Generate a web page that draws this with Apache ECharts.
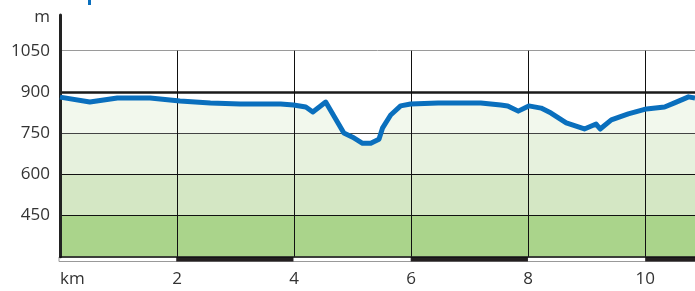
<!DOCTYPE html>
<html>
<head>
<meta charset="utf-8">
<title>Höhenprofil</title>
<script src="https://cdn.jsdelivr.net/npm/echarts@6/dist/echarts.min.js"></script>
<style>
  html, body { margin: 0; padding: 0; background: #fff; }
  #chart { width: 695px; height: 291px; }
</style>
</head>
<body>
<div id="chart"></div>
<script>
// Streckenkilometer und Höhe (m) der Profillinie
const distanceKm = [0, 0.51, 0.98, 1.54, 2.05, 2.57, 3.08, 3.77, 3.99, 4.2, 4.32, 4.54, 4.67, 4.79, 4.85, 5.0, 5.17, 5.31, 5.45, 5.51, 5.65, 5.82, 5.99, 6.46, 7.19, 7.53, 7.65, 7.83, 8.01, 8.22, 8.39, 8.65, 8.96, 9.16, 9.23, 9.42, 9.71, 10.02, 10.33, 10.5, 10.74, 10.85]
const elevation = [881, 863, 878, 878, 867, 860, 856, 856, 852, 845, 827, 863, 816, 772, 750, 735, 713, 713, 728, 768, 816, 849, 856, 860, 860, 852, 849, 830, 849, 841, 823, 787, 765, 783, 765, 798, 820, 838, 845, 860, 882, 878]
// Achsen
const xTicks = [2, 4, 6, 8, 10]
const yLevels = [450, 600, 750, 900, 1050]
// Höhenstufen für die Flächenfarbe
const bandEdges = [300, 450, 600, 750, 900]
// schwarze Abschnitte des km-Maßstabs
const scaleSegments = [[2, 4], [6, 8], [10, 12]]

const bandColors = ['#aad48b', '#d4e7c4', '#e6f1dd', '#f2f8ed']
const lineColor = '#0a6fbd'
const yMin = 300
const yMax = 1180
const xMax = 10.85

const chart = echarts.init(document.getElementById('chart'))

const profile = distanceKm.map((d, i) => [d, elevation[i]])

// Stil der horizontalen Linien je Höhe
function levelStyle(v) {
  if (v === 1050) return { color: '#9a9a9a', width: 1 }
  if (v === 900) return { color: '#1a1a1a', width: 2.5 }
  if (v === 750) return { color: '#444', width: 1.2 }
  return { color: '#111', width: 1.2 }
}

const hLines = yLevels.map((v) => ({ yAxis: v, lineStyle: levelStyle(v) }))
const vLines = xTicks.map((x) => [
  { coord: [x, yMin], lineStyle: { color: '#111', width: 1 } },
  { coord: [x, 1050] },
])

const option = {
  animation: false,
  textStyle: { fontFamily: 'Open Sans' },
  graphic: [
    // abgeschnittener Rest der Überschrift
    { type: 'rect', left: 88, top: 0, shape: { width: 3, height: 5 }, style: { fill: lineColor } },
  ],
  grid: [
    { left: 60, right: 0, top: 15, bottom: 34.3 },
    { left: 59, right: 0, top: 257, height: 4.5, show: true, borderColor: '#999', borderWidth: 1, backgroundColor: '#fff' },
  ],
  xAxis: [
    {
      type: 'value',
      min: 0,
      max: xMax,
      interval: 2,
      z: 6,
      axisLine: { show: true, lineStyle: { color: '#111', width: 1.5 } },
      axisTick: { show: false },
      splitLine: { show: false },
      axisLabel: {
        color: '#333',
        fontSize: 17,
        margin: 14,
        showMaxLabel: false,
        alignMinLabel: 'left',
        formatter: (v) => (v === 0 ? 'km' : String(v)),
      },
    },
    { type: 'value', gridIndex: 1, min: 0, max: xMax, show: false },
  ],
  yAxis: [
    {
      type: 'value',
      min: yMin,
      max: yMax,
      interval: 150,
      z: 6,
      name: 'm',
      nameLocation: 'end',
      nameGap: -2,
      nameTextStyle: { color: '#333', fontSize: 17, align: 'right', verticalAlign: 'middle', padding: [0, 10, 0, 0] },
      axisLine: { show: true, lineStyle: { color: '#222', width: 3 } },
      axisTick: { show: false },
      splitLine: { show: false },
      axisLabel: {
        color: '#333',
        fontSize: 17,
        margin: 10,
        showMinLabel: false,
        showMaxLabel: false,
        formatter: (v) => String(v),
      },
    },
    { type: 'value', gridIndex: 1, min: 0, max: 1, show: false },
  ],
  series: [
    {
      // Fläche unter dem Profil
      type: 'line',
      z: 1,
      data: profile,
      showSymbol: false,
      silent: true,
      lineStyle: { width: 0 },
      areaStyle: { origin: 'start', opacity: 1, color: bandColors[3] },
      markLine: {
        silent: true,
        symbol: 'none',
        label: { show: false },
        lineStyle: { type: 'solid' },
        data: hLines.concat(vLines),
      },
    },
    {
      // Profillinie
      type: 'line',
      z: 10,
      data: profile,
      showSymbol: false,
      silent: true,
      lineStyle: { color: lineColor, width: 5, join: 'round' },
    },
    {
      // km-Maßstab
      type: 'custom',
      xAxisIndex: 1,
      yAxisIndex: 1,
      silent: true,
      data: scaleSegments,
      renderItem: (params, api) => {
        const p0 = api.coord([api.value(0), 1])
        const p1 = api.coord([api.value(1), 0])
        const rect = echarts.graphic.clipRectByRect(
          { x: p0[0], y: p0[1], width: p1[0] - p0[0], height: p1[1] - p0[1] },
          { x: params.coordSys.x, y: params.coordSys.y, width: params.coordSys.width, height: params.coordSys.height }
        )
        return rect && { type: 'rect', shape: rect, style: { fill: '#231f20' } }
      },
    },
  ],
}

chart.setOption(option)

// Flächenfarbe in Höhenstufen: Verlauf mit harten Kanten in Pixelkoordinaten
const yBottom = chart.convertToPixel({ gridIndex: 0 }, [0, bandEdges[0]])[1]
const yTop = chart.convertToPixel({ gridIndex: 0 }, [0, bandEdges[bandEdges.length - 1]])[1]
const span = bandEdges[bandEdges.length - 1] - bandEdges[0]
const stops = []
for (let i = 0; i < bandColors.length; i++) {
  stops.push({ offset: (bandEdges[i] - bandEdges[0]) / span, color: bandColors[i] })
  stops.push({ offset: (bandEdges[i + 1] - bandEdges[0]) / span, color: bandColors[i] })
}
chart.setOption({
  series: [{ areaStyle: { color: new echarts.graphic.LinearGradient(0, yBottom, 0, yTop, stops, true) } }],
})
</script>
</body>
</html>
